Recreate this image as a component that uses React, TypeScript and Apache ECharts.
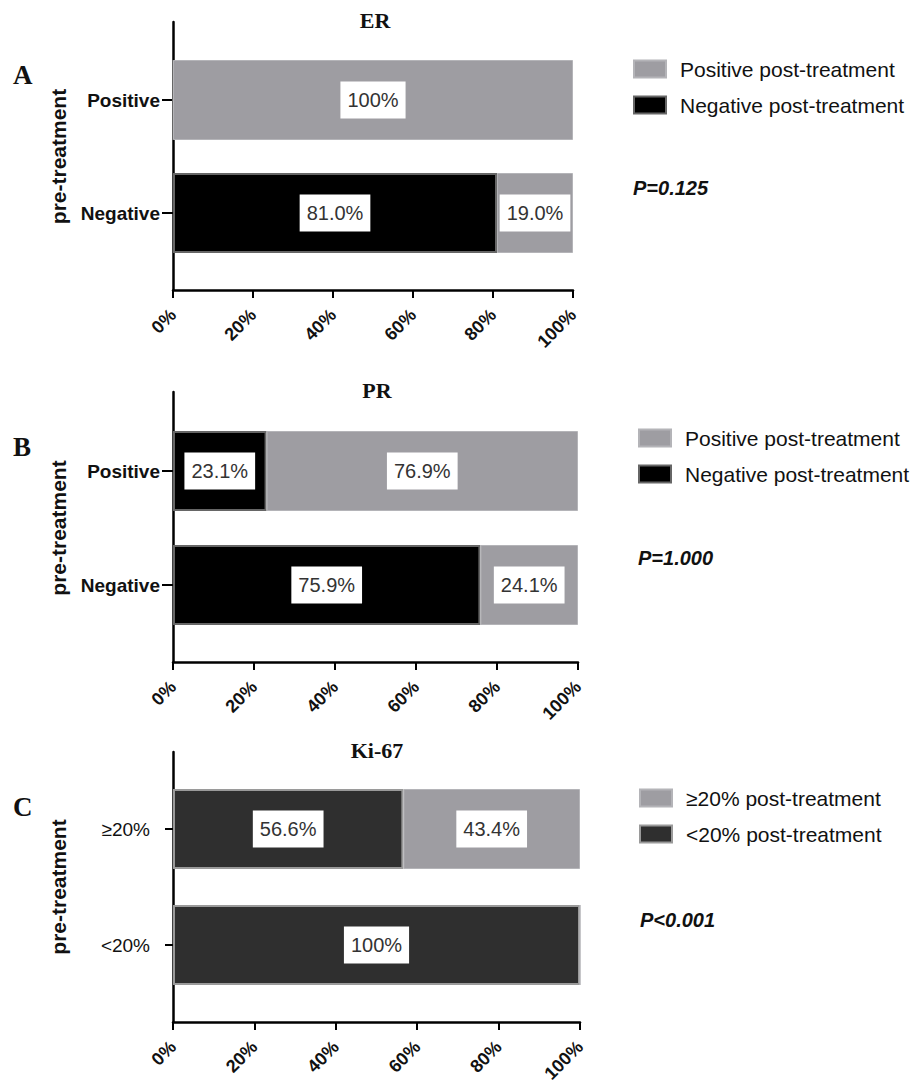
import React, { useEffect, useRef } from "react";
import * as echarts from "echarts";

// ---------- data ----------
const erCategories = ["Positive", "Negative"];
const erNegativePost = [0, 81.0];
const erPositivePost = [100, 19.0];

const prCategories = ["Positive", "Negative"];
const prNegativePost = [23.1, 75.9];
const prPositivePost = [76.9, 24.1];

const kiCategories = ["≥20%", "<20%"];
const kiLowPost = [56.6, 100];
const kiHighPost = [43.4, 0];

const panelTitles = ["ER", "PR", "Ki-67"];
const panelLetters = ["A", "B", "C"];
const pValues = ["P=0.125", "P=1.000", "P<0.001"];
const legendAB = ["Positive post-treatment", "Negative post-treatment"];
const legendC = ["≥20% post-treatment", "<20% post-treatment"];
const yAxisName = "pre-treatment";

// ---------- layout ----------
const SANS = "'Liberation Sans', Arial, sans-serif";
const SERIF = "'Liberation Serif', 'Times New Roman', serif";
const GRAY = "#9e9da2";

const layouts = [
  { left: 173, right: 573, frameTop: 22, frameBottom: 290, barTop: 43.5, barH: 226, titleX: 375, titleY: 20, letterY: 75, legendX: 633, legendY: 69, pX: 633, pY: 188, labelMargin: 13, labelWeight: "bold", tickLen: 11 },
  { left: 173, right: 578, frameTop: 392, frameBottom: 662, barTop: 414, barH: 228, titleX: 377, titleY: 390, letterY: 447, legendX: 638, legendY: 438, pX: 638, pY: 558, labelMargin: 13, labelWeight: "bold", tickLen: 11 },
  { left: 173, right: 580, frameTop: 752, frameBottom: 1022, barTop: 771, barH: 232, titleX: 377, titleY: 750, letterY: 807, legendX: 639, legendY: 798, pX: 640, pY: 920, labelMargin: 23, labelWeight: "normal", tickLen: 8 },
];

const panelCats = [erCategories, prCategories, kiCategories];
const panelSeries = [
  [
    { name: legendAB[1], data: erNegativePost, color: "#000000", border: "#666666", bw: 2 },
    { name: legendAB[0], data: erPositivePost, color: GRAY, border: "#b4b4b8", bw: 1 },
  ],
  [
    { name: legendAB[1], data: prNegativePost, color: "#000000", border: "#666666", bw: 2 },
    { name: legendAB[0], data: prPositivePost, color: GRAY, border: "#b4b4b8", bw: 1 },
  ],
  [
    { name: legendC[1], data: kiLowPost, color: "#2f2f2f", border: "#9a9a9a", bw: 2 },
    { name: legendC[0], data: kiHighPost, color: GRAY, border: "#b4b4b8", bw: 1 },
  ],
];
const panelLegends = [legendAB, legendAB, legendC];

function fmt(v: number) {
  return v === 100 ? "100%" : v.toFixed(1) + "%";
}

function buildOption() {
  const grid: any[] = [];
  const xAxis: any[] = [];
  const yAxis: any[] = [];
  const series: any[] = [];
  const title: any[] = [];
  const legend: any[] = [];

  layouts.forEach((L, i) => {
    const width = L.right - L.left;
    grid[i] = { left: L.left, top: L.barTop, width, height: L.barH, outerBoundsMode: "none", containLabel: false };
    grid[i + 3] = { left: L.left, top: L.frameTop, width, height: L.frameBottom - L.frameTop, outerBoundsMode: "none", containLabel: false };

    xAxis[i] = { type: "value", gridIndex: i, min: 0, max: 100, show: false };
    yAxis[i] = {
      type: "category",
      gridIndex: i,
      inverse: true,
      data: panelCats[i],
      axisLine: { show: false },
      axisTick: { show: true, alignWithLabel: true, length: L.tickLen, lineStyle: { color: "#000", width: 2 } },
      axisLabel: { margin: L.labelMargin, fontFamily: SANS, fontSize: 19, fontWeight: L.labelWeight, color: "#111" },
      name: yAxisName,
      nameLocation: "middle",
      nameRotate: 90,
      nameGap: 104,
      nameTextStyle: { fontFamily: SANS, fontSize: 21, fontWeight: "bold", color: "#111" },
    };

    xAxis[i + 3] = {
      type: "value",
      gridIndex: i + 3,
      min: 0,
      max: 100,
      interval: 20,
      splitLine: { show: false },
      axisLine: { show: true, lineStyle: { color: "#000", width: 2.5 } },
      axisTick: { show: true, length: 8, lineStyle: { color: "#000", width: 2 } },
      axisLabel: {
        formatter: "{value}%",
        rotate: 45,
        margin: 22,
        padding: [10, 0, 0, 0],
        fontFamily: SANS,
        fontSize: 18,
        fontWeight: "bold",
        color: "#111",
      },
    };
    yAxis[i + 3] = {
      type: "value",
      gridIndex: i + 3,
      min: 0,
      max: 1,
      splitLine: { show: false },
      axisLabel: { show: false },
      axisTick: { show: false },
      axisLine: { show: true, lineStyle: { color: "#000", width: 2.5 } },
    };
    series.push({ type: "line", xAxisIndex: i + 3, yAxisIndex: i + 3, data: [], silent: true });

    panelSeries[i].forEach((s) => {
      series.push({
        type: "bar",
        name: s.name,
        xAxisIndex: i,
        yAxisIndex: i,
        stack: "p" + i,
        barWidth: 80,
        data: s.data.map((v) => ({ value: v, label: { show: v > 0 } })),
        itemStyle: { color: s.color, borderColor: s.border, borderWidth: s.bw },
        label: {
          show: true,
          position: "inside",
          formatter: (p: any) => fmt(p.value),
          backgroundColor: "#ffffff",
          padding: [9, 7, 8, 7],
          color: "#333",
          fontFamily: SANS,
          fontSize: 20,
        },
      });
    });

    title.push({
      text: panelTitles[i],
      left: L.titleX,
      top: L.titleY - 11,
      textAlign: "center",
      padding: 0,
      textStyle: { fontFamily: SERIF, fontSize: 22, fontWeight: "bold", color: "#111" },
    });
    title.push({
      text: panelLetters[i],
      left: 13,
      top: L.letterY - 14,
      padding: 0,
      textStyle: { fontFamily: SERIF, fontSize: 27, fontWeight: "bold", color: "#111" },
    });
    title.push({
      text: pValues[i],
      left: L.pX,
      top: L.pY - 10,
      padding: 0,
      textStyle: { fontFamily: SANS, fontSize: 20, fontWeight: "bold", fontStyle: "italic", color: "#111" },
    });

    legend.push({
      orient: "vertical",
      left: L.legendX,
      top: L.legendY - 10.5,
      padding: 0,
      icon: "rect",
      itemWidth: 32,
      itemHeight: 17,
      itemGap: 15,
      selectedMode: false,
      data: panelLegends[i],
      textStyle: { fontFamily: SANS, fontSize: 21, color: "#111", lineHeight: 21, padding: [0, 0, 0, 9] },
    });
  });

  return { animation: false, backgroundColor: "#ffffff", grid, xAxis, yAxis, series, title, legend };
}

export default function App() {
  const ref = useRef<HTMLDivElement>(null);
  useEffect(() => {
    if (!ref.current) return;
    const chart = echarts.init(ref.current, undefined, { renderer: "svg" });
    chart.setOption(buildOption() as any);
    return () => chart.dispose();
  }, []);
  return <div ref={ref} style={{ position: "absolute", left: 0, top: 0, width: 919, height: 1084 }} />;
}
